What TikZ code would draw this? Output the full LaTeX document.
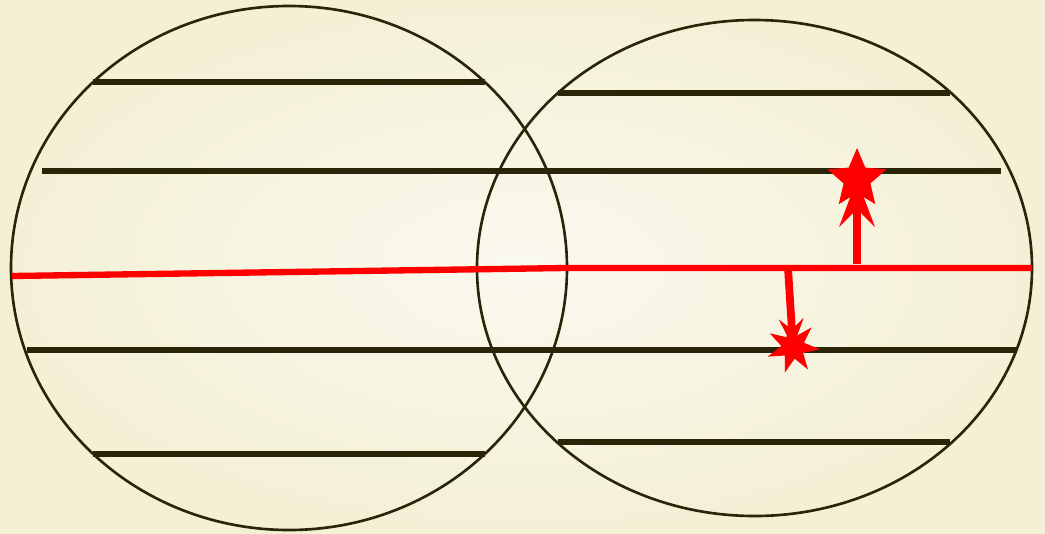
\documentclass[tikz,border=0pt]{standalone}
\usetikzlibrary{shapes.geometric,arrows.meta}
\definecolor{bgin}{RGB}{250,249,238}
\definecolor{bgout}{RGB}{244,240,214}
\definecolor{ink}{RGB}{42,36,8}
\begin{document}
\begin{tikzpicture}[x=0.01cm,y=-0.01cm]
    \tikzstyle{rim}=[ink, line width=0.75pt]
    \tikzstyle{bar}=[ink, line width=1.9pt]
    \tikzstyle{ray}=[red, line width=1.8pt]
    \tikzstyle{shot}=[red, line width=2.2pt]
    \tikzstyle{burst}=[star, fill=red, draw=none, inner sep=0pt]
    \useasboundingbox (0,0) rectangle (1045,533);
    \shade [inner color=bgin, outer color=bgout] (0,0) rectangle (1045,533);
    % the two circles
    \draw [rim] (289,268) ellipse [x radius=278, y radius=262];
    \draw [rim] (754.5,268) ellipse [x radius=277.5, y radius=248];
    % black lines
    \draw [bar] (93,82) -- (485,82);
    \draw [bar] (42,171) -- (1001,171);
    \draw [bar] (27,350) -- (1016,350);
    \draw [bar] (93,454) -- (485,454);
    \draw [bar] (558,93) -- (950,93);
    \draw [bar] (558,442) -- (950,442);
    % red line
    \coordinate (rayA) at (12,276);
    \coordinate (rayB) at (566,268);
    \coordinate (rayC) at (1032,268);
    \draw [ray] (rayA) -- (rayB) -- (rayC);
    % arrows and stars
    \coordinate (upfoot) at (857,264);
    \coordinate (downfoot) at (788,268);
    \node [burst, star points=5, star point ratio=2.2, minimum size=0.62cm] (upstar) at (857,179) {};
    \node [burst, star points=7, star point ratio=2.3, minimum size=0.54cm, rotate=8] (downstar) at (793,347) {};
    \draw [shot, -{Stealth[length=13.5pt,width=10pt,inset=5pt]}] (upfoot) -- (upstar.center);
    \draw [shot, -{Stealth[length=8pt,width=7pt,inset=3pt]}] (downfoot) -- (downstar.center);
\end{tikzpicture}
\end{document}
